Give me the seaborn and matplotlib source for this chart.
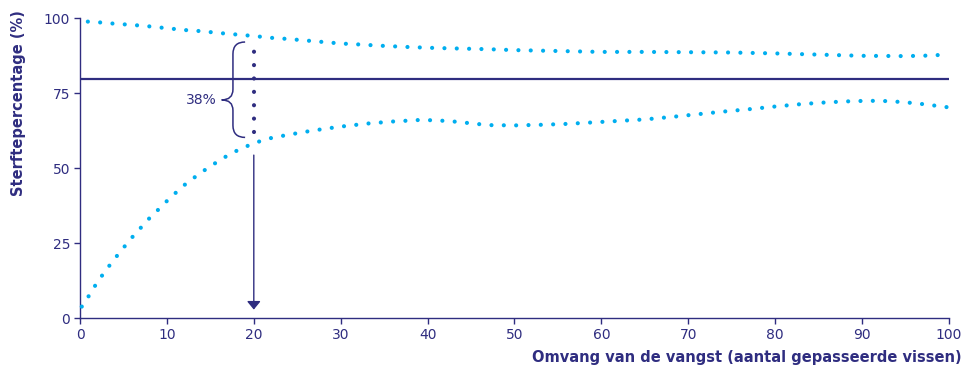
import numpy as np
import pandas as pd
import matplotlib
matplotlib.use("Agg")
import matplotlib.pyplot as plt
from matplotlib.path import Path
from matplotlib.patches import PathPatch, FancyArrowPatch
import seaborn as sns

# ---------------- data ----------------
upper_x = [0.9, 2, 4, 6, 8, 10, 12, 14, 16, 18, 20, 22, 24, 26, 28, 30, 32, 35, 38, 41,
           44, 47, 50, 55, 60, 65, 70, 75, 80, 85, 90, 95, 98, 100]
upper_y = [98.8, 98.6, 98.1, 97.7, 97.2, 96.6, 96.0, 95.6, 95.0, 94.5, 94.0, 93.4, 93.0,
           92.5, 92.0, 91.5, 91.2, 90.7, 90.3, 90.0, 89.8, 89.6, 89.3, 89.0, 88.7, 88.7,
           88.6, 88.5, 88.2, 87.8, 87.4, 87.3, 87.5, 87.9]

lower_x = [0.2, 1, 2, 3, 4, 5, 6, 7, 8, 9, 10, 11, 12, 13, 14, 15, 16, 17, 18, 19, 20,
           22, 24, 26, 28, 30, 33, 36, 39, 41, 43, 45, 47, 50, 53, 56, 59, 62, 65, 68,
           71, 74, 77, 80, 83, 86, 89, 91, 93, 95, 97, 100]
lower_y = [3.8, 7.3, 12.0, 16.0, 19.8, 23.4, 26.9, 30.1, 33.3, 36.1, 39.0, 41.7, 44.3,
           46.5, 48.6, 50.6, 52.4, 54.2, 55.7, 57.0, 58.3, 60.0, 61.1, 62.1, 63.0, 63.8,
           64.8, 65.5, 66.0, 65.9, 65.5, 64.9, 64.3, 64.2, 64.4, 64.7, 65.2, 65.7, 66.2,
           67.0, 67.9, 68.8, 69.6, 70.5, 71.3, 71.9, 72.3, 72.4, 72.3, 71.9, 71.3, 70.2]

reference_level = 79.8        # horizontal line
gap_x = 20                    # position of the marked gap
gap_low, gap_high = 62, 91    # dotted navy segment
brace_tip = 72.7
gap_label = "38%"
arrow_from = 54.3
arrow_to = 2.8

x_ticks = [0, 10, 20, 30, 40, 50, 60, 70, 80, 90, 100]
y_ticks = [0, 25, 50, 75, 100]
x_label = "Omvang van de vangst (aantal gepasseerde vissen)"
y_label = "Sterftepercentage (%)"

# ---------------- style ----------------
NAVY = "#2f2d80"
CYAN = "#00aeef"

sns.set_style("ticks")
plt.rcParams["font.family"] = ["DejaVu Sans"]

fig = plt.figure(figsize=(9.71, 3.69), dpi=100)
ax = fig.add_axes([0.0824, 0.1382, 0.8949, 0.813])

df_up = pd.DataFrame({"x": upper_x, "y": upper_y})
df_lo = pd.DataFrame({"x": lower_x, "y": lower_y})

dot_lw = 3.0
dot_style = (0, (0.01, 2.95))
for d in (df_up, df_lo):
    sns.lineplot(data=d, x="x", y="y", ax=ax, color=CYAN, lw=dot_lw,
                 linestyle=dot_style, dash_capstyle="round", solid_capstyle="round",
                 sort=False, estimator=None, clip_on=False, zorder=3)

# reference horizontal line
ax.plot([0, 100], [reference_level, reference_level], color=NAVY, lw=1.6,
        solid_capstyle="butt", zorder=2)

# dotted navy gap marker
ax.plot([gap_x, gap_x], [gap_low, gap_high], color=NAVY, lw=3.0,
        linestyle=(0, (0.01, 3.2)), dash_capstyle="round", zorder=4)

# curly brace
bx_r, bx_m, bx_t = gap_x - 1.0, gap_x - 2.4, gap_x - 3.7
top, bot = gap_high + 1.0, gap_low - 1.8
verts = [(bx_r, top), (bx_m, top), (bx_m, top - 4),
         (bx_m, brace_tip + 3.5), (bx_m, brace_tip), (bx_t, brace_tip),
         (bx_m, brace_tip), (bx_m, brace_tip - 3.5),
         (bx_m, bot + 4), (bx_m, bot), (bx_r, bot)]
codes = [Path.MOVETO, Path.CURVE3, Path.CURVE3,
         Path.LINETO, Path.CURVE3, Path.CURVE3,
         Path.CURVE3, Path.CURVE3,
         Path.LINETO, Path.CURVE3, Path.CURVE3]
ax.add_patch(PathPatch(Path(verts, codes), fill=False, edgecolor=NAVY, lw=1.1))
ax.text(bx_t - 0.6, brace_tip, gap_label, color=NAVY, fontsize=10, ha="right",
        va="center")

# arrow
ax.add_patch(FancyArrowPatch((gap_x, arrow_from), (gap_x, arrow_to),
                             arrowstyle="-|>,head_length=0.55,head_width=0.45",
                             mutation_scale=9, color=NAVY, lw=1.0,
                             shrinkA=0, shrinkB=0))

# axes
ax.set_xlim(0, 100)
ax.set_ylim(0, 100)
ax.set_xticks(x_ticks)
ax.set_yticks(y_ticks)
ax.set_xlabel(x_label, fontsize=10.5, fontweight="bold", color=NAVY, loc="right")
ax.xaxis.set_label_coords(1.015, -0.13)
ax.xaxis.label.set_va("center")
ax.set_ylabel(y_label, fontsize=10.5, fontweight="bold", color=NAVY, loc="top")
ax.yaxis.set_label_coords(-0.0713, 1.027)
ax.yaxis.label.set_va("center")
ax.tick_params(colors=NAVY, labelsize=10, length=4, width=1.0, pad=3)
for s in ["top", "right"]:
    ax.spines[s].set_visible(False)
for s in ["left", "bottom"]:
    ax.spines[s].set_color(NAVY)
    ax.spines[s].set_linewidth(1.0)
ax.set_facecolor("white")
fig.patch.set_facecolor("white")

fig.savefig("out.png", dpi=100)
